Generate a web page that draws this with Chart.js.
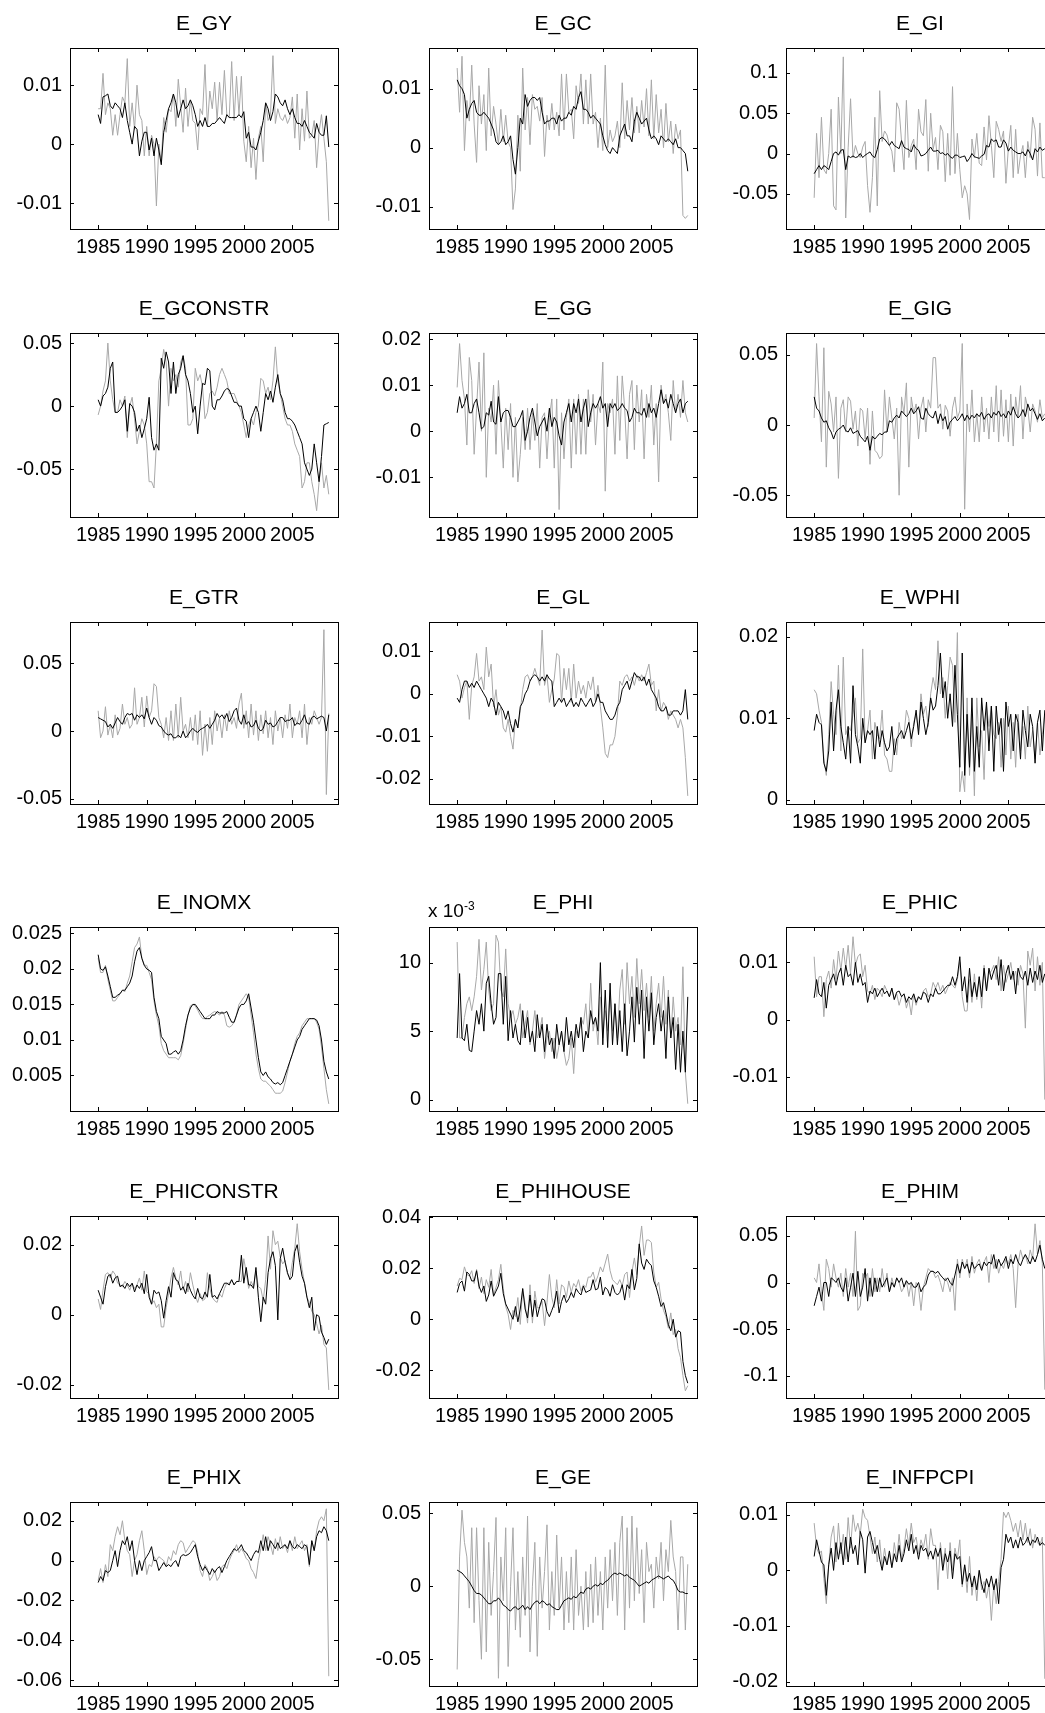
<!DOCTYPE html>
<html>
<head>
<meta charset="utf-8">
<script src="https://cdn.jsdelivr.net/npm/chart.js@4.4.1/dist/chart.umd.min.js"></script>
<style>
  html, body { margin: 0; padding: 0; background: #fff; }
  body { width: 1045px; height: 1713px; position: relative; overflow: hidden; font-family: "Liberation Sans", Arial, sans-serif; }
  canvas { position: absolute; }
  .ttl { position: absolute; text-align: center; font-size: 21px; line-height: 24px; color: #000; }
  .mult { position: absolute; font-size: 19px; line-height: 20px; color: #000; }
  .mult sup { font-size: 12px; }
</style>
</head>
<body>
<script>
// quarterly observations, 1985Q1 .. 2008Q4
const quarters = [];
for (let yr = 1985; yr <= 2008; yr++) {
  for (let q = 0; q < 4; q++) quarters.push(yr + q / 4);
}
const xTicks = [1985, 1990, 1995, 2000, 2005];

// black = smoothed shock, gray = second estimate
const E_GY_black = [0.005,0.0035,0.008,0.0082, 0.0085,0.0065,0.006,0.007, 0.0065,0.006,0.0045,0.007, 0.004,0.002,0.000,0.003,
  0.0025,-0.002,0.0005,0.002, 0.002,-0.001,0.001,-0.002, 0.001,-0.001,-0.0035,0.002, 0.004,0.006,0.007,0.0085,
  0.007,0.0045,0.006,0.0075, 0.006,0.0065,0.0075,0.0065, 0.005,0.003,0.004,0.003, 0.0045,0.003,0.003,0.0035,
  0.0035,0.004,0.0045,0.004, 0.0035,0.005,0.0045,0.0045, 0.0045,0.0045,0.005,0.0045, 0.0055,0.001,0.002,-0.0005,
  -0.0005,-0.001,0.0005,0.002, 0.004,0.007,0.006,0.004, 0.0055,0.0085,0.008,0.007, 0.0065,0.0075,0.006,0.005,
  0.006,0.0045,0.0035,0.0035, 0.003,0.004,0.003,0.002, 0.0015,0.001,0.0035,0.002, 0.0015,0.0015,0.0048,-0.0005];
const E_GY_gray = [0.006,0.006,0.012,0.005, 0.007,0.006,0.0015,0.005, 0.0015,0.005,0.008,0.007, 0.0145,0.003,0.007,0.0025,
  0.010,0.005,0.004,-0.002, 0.003,-0.002,0.0015,0.000, -0.0105,0.000,-0.003,0.0045, 0.002,0.006,0.0055,0.0085,
  0.003,0.011,0.0065,0.002, 0.0095,0.003,0.0075,0.004, 0.0035,-0.001,0.006,0.005, 0.0135,0.003,0.009,0.006,
  0.0105,0.004,0.0105,0.005, 0.0125,0.005,0.0045,0.014, 0.004,0.0115,0.005,0.0115, 0.0005,-0.003,0.003,-0.004,
  0.001,-0.006,0.001,0.003, -0.003,0.007,0.004,0.005, 0.015,0.0035,0.006,0.0045, 0.004,0.005,0.0035,0.0045,
  0.008,0.001,0.0085,-0.001, 0.006,0.0005,0.009,0.001, 0.0015,0.004,-0.004,0.002, 0.005,0.001,-0.003,-0.013];

const E_GC_black = [0.0115,0.0105,0.010,0.009, 0.005,0.0065,0.0075,0.008, 0.006,0.0055,0.0055,0.006, 0.0055,0.005,0.004,0.003,
  0.001,0.0005,0.001,0.002, 0.0005,0.001,0.002,-0.002, -0.0045,0.000,0.005,0.004, 0.009,0.007,0.008,0.0085,
  0.0085,0.008,0.0085,0.006, 0.004,0.0045,0.0045,0.005, 0.005,0.004,0.0055,0.0045, 0.005,0.005,0.006,0.0055,
  0.007,0.0065,0.0085,0.0095, 0.0065,0.0065,0.006,0.005, 0.0055,0.005,0.0045,0.004, 0.002,0.0005,-0.0005,-0.001,
  0.000,-0.0005,-0.001,0.002, 0.003,0.004,0.002,0.002, 0.001,0.0045,0.006,0.005, 0.004,0.0045,0.005,0.003,
  0.0015,0.002,0.0015,0.0005, 0.002,0.0015,0.001,0.0015, 0.001,0.0005,0.0015,0.000, 0.000,-0.0005,-0.001,-0.004];
const E_GC_gray = [0.0135,0.006,0.0155,-0.0005, 0.008,0.0045,0.014,0.004, -0.0025,0.0105,0.004,0.009, -0.0005,0.0135,0.002,0.007,
  0.004,0.0005,0.0065,0.001, 0.0055,0.001,0.000,-0.0105, -0.007,0.0055,-0.004,0.0135, 0.003,0.0085,0.0005,0.009,
  0.0065,0.007,0.0045,0.0085, -0.0015,0.0055,0.003,0.0075, 0.003,0.006,0.002,0.0125, 0.003,0.0125,0.006,0.0065,
  0.0015,0.0105,0.0075,0.0125, 0.004,0.0115,0.004,0.0125, 0.004,0.006,0.000,0.005, -0.0005,0.014,0.000,0.003,
  0.001,0.002,0.0045,0.000, 0.011,0.0015,0.008,0.003, 0.0085,0.0025,0.007,0.0025, 0.008,0.0035,0.010,0.002,
  0.0115,0.0015,0.009,0.0025, 0.0065,0.000,0.0075,0.001, 0.0045,-0.001,0.004,0.0015, 0.003,-0.0115,-0.012,-0.0115];

const E_GI_black = [-0.025,-0.02,-0.015,-0.02, -0.015,-0.017,-0.02,-0.01, 0.000,0.002,-0.002,0.004, 0.005,-0.02,-0.003,-0.005,
  -0.003,-0.005,-0.004,0.000, -0.005,-0.002,0.000,0.002, -0.003,-0.005,0.005,0.018, 0.02,0.018,0.014,0.010,
  0.015,0.010,0.008,0.006, 0.016,0.008,0.006,0.005, 0.002,0.011,0.006,0.004, -0.003,-0.002,0.000,0.004,
  0.008,0.003,0.003,0.004, 0.000,0.001,-0.002,0.000, -0.004,-0.006,-0.002,-0.002, -0.005,-0.004,-0.003,-0.01,
  -0.006,0.000,-0.004,-0.005, -0.006,-0.003,-0.001,0.010, 0.008,0.018,0.015,0.017, 0.008,0.008,0.017,0.013,
  0.003,0.008,0.004,0.002, 0.000,0.000,0.002,-0.003, 0.005,0.000,-0.008,0.006, 0.002,0.008,0.004,0.006];
const E_GI_gray = [-0.055,0.025,-0.03,0.045, -0.02,-0.025,0.000,0.055, -0.065,-0.07,0.07,0.000, 0.12,-0.08,0.007,0.068,
  -0.005,0.01,0.000,-0.005, 0.008,0.015,-0.04,-0.073, -0.03,0.045,-0.065,0.078, 0.015,0.028,0.023,0.01,
  0.003,-0.023,0.063,0.055, 0.015,-0.020,0.066,-0.005, 0.010,0.018,-0.020,0.055, 0.027,0.022,0.067,-0.022,
  0.050,0.005,0.020,-0.020, 0.035,0.027,-0.035,0.025, -0.027,0.083,-0.025,0.025, -0.020,-0.055,-0.040,-0.050,
  -0.082,0.018,-0.005,0.025, -0.012,-0.015,0.033,-0.008, 0.047,0.010,-0.030,0.040, 0.030,0.015,0.028,-0.037,
  0.007,0.035,-0.030,0.030, -0.025,-0.003,0.010,-0.030, 0.015,-0.005,0.045,0.030, -0.028,0.038,-0.030,-0.030];

const E_GCONSTR_black = [0.005,0.000,0.008,0.010, 0.015,0.030,0.035,-0.005, -0.005,-0.003,0.000,0.005, -0.020,0.002,0.000,-0.005,
  -0.020,-0.015,-0.025,-0.018, -0.010,0.007,-0.025,-0.035, -0.030,-0.035,0.038,0.030, 0.043,0.035,0.010,0.035,
  0.010,0.025,0.030,0.040, 0.025,0.020,0.010,-0.005, 0.000,-0.022,0.000,0.018, 0.017,0.030,0.028,0.000,
  -0.003,0.005,0.005,0.008, 0.012,0.014,0.013,0.008, 0.003,0.003,0.000,0.000, -0.010,-0.012,-0.025,-0.010,
  -0.005,0.000,-0.005,-0.020, -0.005,0.010,0.005,0.012, 0.003,0.015,0.025,0.010, 0.005,-0.005,-0.010,-0.010,
  -0.012,-0.015,-0.020,-0.025, -0.030,-0.045,-0.050,-0.055, -0.050,-0.030,-0.045,-0.060, -0.040,-0.015,-0.014,-0.013];
const E_GCONSTR_gray = [-0.007,0.000,0.012,0.020, 0.050,0.020,0.005,-0.005, -0.005,0.005,0.000,0.008, -0.025,0.000,0.007,-0.010,
  -0.030,-0.020,-0.010,-0.015, -0.030,-0.060,-0.060,-0.065, -0.030,0.020,0.030,0.045, 0.035,0.000,0.030,0.020,
  0.025,0.015,0.035,0.040, 0.030,-0.015,-0.015,-0.010, 0.030,0.020,0.025,0.015, -0.010,-0.005,0.010,0.012,
  0.008,0.015,0.025,0.030, 0.025,0.020,0.010,0.010, 0.010,0.005,0.000,-0.005, -0.015,-0.025,-0.015,-0.010,
  -0.015,-0.005,0.000,0.022, 0.020,0.010,0.015,0.005, 0.020,0.047,0.020,0.010, 0.000,-0.010,-0.015,-0.015,
  -0.020,-0.030,-0.035,-0.040, -0.065,-0.060,-0.045,-0.045, -0.060,-0.070,-0.083,-0.060, -0.045,-0.065,-0.055,-0.070];

const E_GG_black = [0.004,0.0075,0.005,0.006, 0.008,0.004,0.004,0.006, 0.007,0.004,0.0005,0.001, 0.004,0.0035,0.0065,0.002,
  0.0015,0.0075,0.002,0.004, 0.0045,0.0045,0.003,0.001, 0.001,0.002,0.003,0.0045, -0.002,0.000,0.003,0.005,
  0.002,-0.001,0.001,0.002, 0.003,0.000,0.005,0.001, 0.003,0.002,-0.001,-0.003, 0.002,0.004,0.006,0.002,
  0.006,0.004,0.007,0.002, 0.005,0.007,0.001,0.004, 0.006,0.005,0.006,0.0075, 0.005,0.006,0.001,0.006,
  0.005,0.006,0.0045,0.005, 0.006,0.005,0.0045,0.002, 0.003,0.005,0.004,0.004, 0.0035,0.005,0.003,0.006,
  0.004,0.005,0.003,0.006, 0.009,0.006,0.007,0.005, 0.008,0.006,0.004,0.006, 0.007,0.004,0.006,0.0065];
const E_GG_gray = [0.0095,0.019,0.011,0.007, -0.003,0.016,0.011,-0.005, 0.005,0.015,0.000,0.017, -0.010,0.005,0.002,0.010,
  -0.005,0.011,0.002,-0.008, 0.005,-0.004,0.006,-0.010, 0.003,-0.011,-0.005,0.003, -0.004,0.005,-0.004,0.004,
  -0.002,0.006,-0.008,0.003, 0.004,-0.006,0.003,0.007, -0.008,0.007,-0.017,0.004, -0.006,0.003,0.007,-0.008,
  0.007,-0.005,0.008,-0.005, 0.007,-0.005,0.009,0.002, 0.008,-0.003,0.006,0.004, 0.015,-0.013,0.006,0.004,
  0.007,-0.005,0.012,-0.002, 0.012,0.005,-0.006,0.008, 0.011,-0.004,0.010,0.002, 0.009,-0.006,0.008,0.003,
  0.010,-0.003,0.006,-0.011, 0.010,0.006,0.008,0.004, -0.002,0.011,0.004,0.008, 0.003,0.011,0.004,0.002];

const E_GIG_black = [0.020,0.012,0.010,0.005, 0.002,0.003,-0.002,-0.005, -0.010,-0.005,-0.003,-0.002, 0.000,-0.004,-0.005,-0.002,
  -0.006,-0.005,-0.004,-0.008, -0.010,-0.012,-0.008,-0.018, -0.008,-0.010,-0.008,-0.006, -0.007,-0.005,-0.005,0.003,
  0.002,0.005,0.007,0.005, 0.010,0.008,0.006,0.008, 0.012,0.008,0.010,0.013, 0.005,0.004,0.012,0.008,
  0.006,0.005,0.010,0.001, 0.008,0.003,0.006,-0.003, 0.002,0.004,0.006,0.003, 0.005,0.008,0.003,0.007,
  0.004,0.007,0.005,0.008, 0.006,0.009,0.004,0.007, 0.008,0.005,0.009,0.007, 0.010,0.006,0.008,0.005,
  0.010,0.007,0.013,0.008, 0.005,0.007,0.011,0.006, 0.015,0.010,0.012,0.008, 0.004,0.008,0.003,0.005];
const E_GIG_gray = [0.005,0.058,0.020,-0.012, 0.055,-0.030,0.024,0.015, -0.005,0.020,-0.038,0.012, 0.018,-0.005,0.020,0.017,
  -0.003,0.010,-0.015,0.012, 0.010,-0.010,0.012,-0.028, 0.010,-0.018,-0.020,-0.024, -0.022,0.025,-0.005,0.020,
  0.005,-0.010,0.012,-0.050, 0.020,0.008,0.030,-0.030, 0.020,0.008,0.015,-0.010, 0.012,0.020,-0.005,0.018,
  0.012,0.048,0.048,0.012, 0.015,-0.003,0.014,0.010, -0.008,0.012,0.020,0.005, 0.010,0.058,-0.060,0.015,
  -0.005,0.025,-0.012,0.008, -0.012,0.020,-0.005,0.012, -0.010,0.020,-0.005,0.028, -0.012,0.025,-0.008,0.018,
  -0.012,0.022,-0.015,0.020, 0.005,0.028,-0.010,0.020, 0.012,-0.005,0.015,0.010, 0.002,0.018,0.005,0.008];

const E_GTR_black = [0.010,0.009,0.008,0.007, 0.003,0.005,0.002,0.006, 0.010,0.007,0.005,0.010, 0.013,0.012,0.013,0.008,
  0.012,0.010,0.012,0.009, 0.017,0.010,0.005,0.010, 0.008,0.004,0.003,0.000, -0.002,-0.003,-0.002,-0.005,
  -0.005,-0.003,-0.005,0.000, -0.005,-0.003,0.000,0.002, 0.000,-0.001,0.001,0.002, 0.003,0.005,0.002,0.005,
  0.008,0.013,0.010,0.012, 0.009,0.013,0.007,0.010, 0.015,0.017,0.008,0.005, 0.012,0.005,0.007,0.003,
  0.004,0.008,0.002,0.000, 0.002,0.008,0.005,0.006, 0.003,0.004,0.007,0.010, 0.010,0.007,0.008,0.008,
  0.010,0.004,0.006,0.005, 0.008,0.012,0.006,0.005, 0.010,0.011,0.009,0.010, 0.011,0.010,0.000,0.012];
const E_GTR_gray = [0.015,-0.005,0.000,0.018, -0.003,0.005,-0.005,0.012, -0.003,0.002,0.020,0.005, 0.010,0.002,0.005,0.032,
  0.005,0.010,0.025,0.003, 0.026,0.010,0.015,0.035, 0.033,0.010,0.005,-0.005, 0.010,-0.007,0.015,-0.007,
  0.020,-0.005,0.025,0.000, 0.005,-0.005,0.010,-0.007, 0.012,-0.010,0.015,-0.018, 0.005,-0.015,0.010,-0.010,
  0.015,0.000,0.010,-0.005, 0.012,0.000,0.015,0.005, 0.010,0.002,0.020,0.028, 0.002,0.015,-0.005,0.020,
  -0.003,0.015,-0.007,0.012, -0.002,0.015,-0.005,0.010, -0.010,0.015,0.000,0.010, -0.005,0.012,0.002,0.020,
  -0.005,0.010,0.005,0.015, -0.005,0.020,-0.010,0.010, 0.005,0.015,0.010,0.005, 0.010,0.075,-0.047,0.013];

const E_GL_black = [-0.001,-0.002,0.001,0.003, 0.003,0.0015,0.0025,0.0015, 0.003,0.002,0.001,0.000, -0.001,-0.003,-0.001,-0.002,
  -0.005,-0.002,-0.003,-0.004, -0.006,-0.004,-0.007,-0.009, -0.006,-0.008,-0.003,-0.002, 0.000,0.001,0.003,0.004,
  0.0045,0.004,0.003,0.004, 0.003,0.0045,0.0035,0.003, -0.003,-0.002,-0.001,-0.002, -0.001,-0.003,-0.002,-0.001,
  -0.003,-0.002,-0.003,-0.001, -0.002,-0.003,-0.002,-0.001, -0.003,-0.002,0.000,-0.002, -0.002,-0.004,-0.005,-0.006,
  -0.006,-0.005,-0.003,-0.002, 0.001,0.002,0.003,0.001, 0.003,0.005,0.004,0.004, 0.003,0.004,0.002,0.0035,
  0.001,0.000,-0.001,-0.003, -0.004,-0.004,-0.003,-0.005, -0.005,-0.004,-0.004,-0.004, -0.005,-0.004,0.001,-0.006];
const E_GL_gray = [0.0045,0.003,-0.001,0.0015, 0.003,-0.006,0.002,0.004, 0.0095,0.003,0.004,0.001, 0.011,0.004,0.007,-0.003,
  0.001,-0.005,-0.003,-0.008, -0.009,-0.006,-0.010,-0.013, -0.006,-0.008,-0.004,0.001, 0.004,0.0045,0.003,0.004,
  0.006,0.004,0.002,0.015, 0.002,0.0045,-0.002,0.001, 0.0035,0.0095,0.009,-0.002, 0.006,0.001,0.006,-0.002,
  0.007,-0.001,0.003,0.000, 0.002,-0.001,0.003,0.001, 0.004,-0.002,0.002,-0.003, -0.008,-0.014,-0.015,-0.012,
  -0.012,-0.010,-0.005,0.003, 0.002,0.004,0.0045,0.003, 0.004,0.002,0.0045,0.003, 0.0045,0.003,0.005,0.007,
  0.002,0.003,-0.004,0.001, -0.004,-0.002,-0.003,-0.006, -0.004,-0.005,-0.006,-0.008, -0.006,-0.008,-0.015,-0.024];

const E_WPHI_black = [0.0085,0.0105,0.0095,0.0092, 0.0045,0.0035,0.006,0.012, 0.006,0.011,0.0135,0.009, 0.007,0.005,0.009,0.0045,
  0.014,0.008,0.0065,0.0045, 0.010,0.007,0.0085,0.008, 0.0085,0.005,0.009,0.0065, 0.0085,0.007,0.006,0.0065,
  0.009,0.0055,0.0075,0.008, 0.0085,0.0075,0.0085,0.0095, 0.0075,0.009,0.011,0.008, 0.012,0.010,0.008,0.0095,
  0.0125,0.011,0.0115,0.014, 0.018,0.0125,0.0145,0.010, 0.013,0.009,0.0165,0.0105, 0.004,0.018,0.003,0.0105,
  0.004,0.0125,0.0035,0.009, 0.004,0.0125,0.0085,0.012, 0.006,0.0115,0.0035,0.0115, 0.008,0.010,0.0035,0.012,
  0.009,0.0105,0.006,0.0105, 0.0095,0.005,0.011,0.0085, 0.0065,0.0105,0.009,0.0045, 0.0095,0.011,0.006,0.011];
const E_WPHI_gray = [0.0135,0.013,0.011,0.0095, 0.005,0.003,0.008,0.0145, 0.0105,0.008,0.0165,0.006, 0.0175,0.008,0.009,0.0085,
  0.0105,0.0125,0.007,0.0075, 0.0185,0.007,0.0085,0.011, 0.005,0.0095,0.008,0.0075, 0.011,0.0055,0.005,0.0035,
  0.0035,0.0075,0.0055,0.0095, 0.0075,0.008,0.011,0.010, 0.0065,0.0095,0.0105,0.0085, 0.013,0.0105,0.0115,0.009,
  0.013,0.015,0.0135,0.0195, 0.013,0.015,0.010,0.014, 0.0175,0.0165,0.0095,0.0205, 0.001,0.0035,0.001,0.0125,
  0.003,0.0105,0.0005,0.0125, 0.0065,0.0085,0.0025,0.0115, 0.009,0.0115,0.008,0.0075, 0.0095,0.004,0.010,0.0055,
  0.0115,0.005,0.0095,0.004, 0.0105,0.006,0.009,0.005, 0.0115,0.0065,0.0085,0.005, 0.0095,0.0055,0.008,0.0105];

const E_INOMX_black = [0.022,0.020,0.0198,0.0203, 0.019,0.0175,0.016,0.016, 0.0163,0.0165,0.017,0.017, 0.0175,0.018,0.019,0.021,
  0.0225,0.023,0.0215,0.0205, 0.020,0.0198,0.0195,0.016, 0.014,0.013,0.0105,0.010, 0.0095,0.008,0.008,0.0083,
  0.0085,0.008,0.0085,0.010, 0.012,0.0135,0.0145,0.015, 0.015,0.0145,0.014,0.0135, 0.013,0.013,0.013,0.0135,
  0.0135,0.014,0.0138,0.0138, 0.0138,0.014,0.0132,0.0125, 0.0125,0.0135,0.0145,0.015, 0.015,0.0155,0.0165,0.0145,
  0.0125,0.010,0.0075,0.0055, 0.005,0.0055,0.0048,0.0045, 0.004,0.0038,0.004,0.0037, 0.004,0.005,0.006,0.007,
  0.008,0.009,0.010,0.0105, 0.0115,0.012,0.0125,0.013, 0.013,0.013,0.0128,0.012, 0.010,0.007,0.0055,0.0045];
const E_INOMX_gray = [0.0215,0.0195,0.0195,0.0205, 0.0185,0.017,0.0155,0.0155, 0.016,0.0165,0.017,0.0168, 0.018,0.019,0.021,0.023,
  0.0235,0.0245,0.0215,0.0205, 0.0205,0.0195,0.0185,0.0155, 0.0135,0.012,0.0095,0.0085, 0.008,0.0075,0.0075,0.0075,
  0.0075,0.0072,0.0078,0.0095, 0.0115,0.0135,0.0148,0.015, 0.0148,0.0142,0.0135,0.013, 0.013,0.0133,0.0135,0.0138,
  0.014,0.0138,0.0135,0.014, 0.0135,0.012,0.0118,0.012, 0.0125,0.0135,0.015,0.0155, 0.016,0.0165,0.016,0.0135,
  0.011,0.008,0.006,0.0045, 0.0042,0.0042,0.0038,0.0035, 0.003,0.0025,0.0025,0.0025, 0.0028,0.004,0.0055,0.007,
  0.008,0.0095,0.0105,0.011, 0.012,0.0125,0.013,0.013, 0.013,0.013,0.0125,0.0115, 0.009,0.006,0.003,0.001];

// E_PHI in units of 10^-3
const E_PHI_black = [4.5,9.2,4.5,4.3, 5.5,3.6,3.5,5.0, 6.5,5.5,7.0,5.0, 8.5,9.0,7.0,5.5,
  6.0,9.2,9.2,5.5, 9.0,4.3,6.5,4.5, 5.5,4.3,4.0,6.5, 4.5,6.0,4.2,5.0,
  3.5,6.2,4.5,5.5, 3.5,5.5,4.0,4.5, 3.0,5.5,4.0,5.0, 3.5,6.0,4.0,5.0,
  3.8,5.5,4.5,6.0, 3.5,5.0,4.5,6.5, 5.5,6.0,5.0,10.0, 4.0,8.0,3.8,8.5,
  4.0,7.0,4.0,6.5, 3.5,7.0,3.2,5.0, 7.5,4.2,8.2,5.5, 8.0,3.0,7.5,5.0,
  7.8,4.0,6.0,7.0, 5.0,6.5,3.0,7.5, 4.5,6.0,2.2,5.5, 2.0,5.0,2.0,7.5];
const E_PHI_gray = [11.5,4.5,4.5,6.0, 7.0,7.5,6.5,7.5, 9.0,11.7,8.0,9.5, 11.5,8.0,6.5,7.0,
  12.0,11.5,8.0,7.5, 11.0,7.0,6.0,6.5, 5.5,6.0,7.0,4.5, 5.5,6.5,4.0,5.0,
  6.5,4.5,5.0,6.0, 3.0,4.5,5.0,3.5, 4.5,3.0,4.0,5.0, 3.5,2.5,3.0,4.5,
  1.9,5.0,4.5,6.0, 5.5,7.0,4.5,8.5, 5.0,6.0,4.0,7.5, 4.5,6.5,5.0,8.0,
  5.0,7.0,4.5,8.0, 9.5,5.5,10.0,7.0, 9.0,6.0,10.3,7.0, 9.5,6.5,8.5,6.0,
  9.0,5.0,7.0,8.5, 6.0,9.0,5.5,8.0, 4.5,7.5,5.0,6.0, 4.0,9.7,2.0,-0.3];

const E_PHIC_black = [0.0038,0.007,0.0045,0.004, 0.0065,0.002,0.006,0.007, 0.008,0.006,0.008,0.009, 0.006,0.0095,0.0075,0.008,
  0.006,0.010,0.0065,0.008, 0.006,0.0065,0.003,0.005, 0.0045,0.0055,0.004,0.0048, 0.0055,0.0045,0.005,0.004,
  0.0055,0.0035,0.0048,0.005, 0.004,0.0045,0.003,0.004, 0.0035,0.0045,0.003,0.004, 0.0035,0.0048,0.0045,0.003,
  0.0045,0.004,0.0055,0.0045, 0.0045,0.005,0.0055,0.006, 0.006,0.0075,0.006,0.0075, 0.011,0.005,0.0075,0.003,
  0.009,0.004,0.0065,0.004, 0.0075,0.004,0.009,0.005, 0.009,0.007,0.0085,0.0095, 0.006,0.0105,0.005,0.008,
  0.0095,0.007,0.0085,0.0045, 0.009,0.0075,0.007,0.0085, 0.006,0.009,0.0065,0.0085, 0.007,0.0095,0.0065,0.008];
const E_PHIC_gray = [0.011,0.004,0.0075,0.0075, 0.0005,0.007,0.0085,0.0055, 0.0105,0.007,0.012,0.0085, 0.0125,0.009,0.013,0.008,
  0.0145,0.0095,0.011,0.0115, 0.0075,0.0095,0.005,0.0045, 0.006,0.0035,0.0055,0.005, 0.004,0.006,0.005,0.004,
  0.0055,0.0035,0.0045,0.0025, 0.004,0.0045,0.002,0.0035, 0.0008,0.0045,0.0025,0.004, 0.0035,0.005,0.0055,0.004,
  0.0045,0.0065,0.0055,0.0065, 0.005,0.006,0.0045,0.0055, 0.0065,0.006,0.0055,0.007, 0.010,0.004,0.0015,0.0015,
  0.007,0.003,0.008,0.0035, 0.0075,0.002,0.0095,0.005, 0.008,0.0085,0.0095,0.007, 0.011,0.005,0.0095,0.0065,
  0.008,0.010,0.007,0.0085, 0.006,0.0095,0.008,-0.0015, 0.012,0.0095,0.0125,0.005, 0.011,0.006,0.010,-0.014];

const E_PHICONSTR_black = [0.007,0.005,0.003,0.008, 0.011,0.0115,0.009,0.0105, 0.011,0.008,0.0085,0.0075, 0.009,0.008,0.009,0.0065,
  0.0085,0.0075,0.009,0.006, 0.0115,0.005,0.003,0.007, 0.006,0.0065,0.004,-0.001, 0.004,0.008,0.005,0.012,
  0.010,0.0095,0.007,0.008, 0.006,0.009,0.007,0.0055, 0.0045,0.0075,0.005,0.0045, 0.0065,0.005,0.0115,0.005,
  0.0055,0.0045,0.006,0.0075, 0.009,0.009,0.0085,0.010, 0.0085,0.0095,0.0095,0.017, 0.009,0.0135,0.0085,0.0085,
  0.0075,0.0135,0.005,-0.002, 0.005,0.003,0.012,0.016, 0.018,0.014,-0.0015,0.016, 0.019,0.015,0.012,0.010,
  0.011,0.018,0.020,0.015, 0.011,0.009,0.005,0.002, 0.005,-0.0045,0.000,-0.0005, -0.005,-0.0065,-0.0085,-0.007];
const E_PHICONSTR_gray = [0.0045,0.0015,0.007,0.0115, 0.012,0.0105,0.0125,0.0115, 0.009,0.0085,0.008,0.0095, 0.0085,0.007,0.009,0.0075,
  0.0085,0.0105,0.007,0.0125, 0.0065,0.006,0.003,0.004, 0.002,0.003,-0.0035,-0.0035, 0.002,0.006,0.0105,0.0135,
  0.0105,0.0085,0.0125,0.007, 0.0095,0.0065,0.012,0.0085, 0.0055,0.0035,0.006,0.004, 0.0045,0.012,0.0075,0.005,
  0.004,0.0035,0.006,0.005, 0.0075,0.009,0.009,0.010, 0.0085,0.0095,0.0095,0.0095, 0.016,0.012,0.0075,0.0095,
  0.008,0.0125,0.008,0.0075, 0.004,0.010,0.0225,0.013, 0.024,0.020,0.021,0.0165, 0.0145,0.0155,0.0115,0.0105,
  0.015,0.019,0.026,0.018, 0.013,0.009,0.005,0.0035, 0.001,0.000,-0.0025,-0.0055, -0.003,-0.0085,-0.0095,-0.0215];

const E_PHIHOUSE_black = [0.0105,0.014,0.015,0.011, 0.0185,0.0175,0.015,0.015, 0.019,0.013,0.0105,0.013, 0.007,0.0095,0.015,0.009,
  0.011,0.013,0.018,0.010, 0.006,0.004,0.002,0.000, 0.005,-0.001,0.004,0.012, 0.004,0.0005,0.0095,0.001,
  0.0075,0.001,0.005,0.008, 0.0075,0.003,0.001,0.0035, 0.006,0.011,0.0025,0.007, 0.0095,0.0065,0.008,0.0105,
  0.0085,0.012,0.0105,0.0095, 0.013,0.0105,0.011,0.0115, 0.0155,0.0115,0.012,0.0165, 0.0095,0.0125,0.0115,0.009,
  0.0135,0.0105,0.0095,0.0105, 0.0135,0.0075,0.0135,0.012, 0.0195,0.0115,0.016,0.0295, 0.022,0.0195,0.0235,0.022,
  0.021,0.015,0.0125,0.009, 0.005,0.0065,0.0025,-0.002, -0.0045,0.000,-0.007,-0.0045, -0.005,-0.0165,-0.022,-0.025];
const E_PHIHOUSE_gray = [0.013,0.016,0.0155,0.0205, 0.0175,0.017,0.019,0.014, 0.0195,0.012,0.0165,0.010, 0.0155,0.0125,0.0195,0.0095,
  0.0125,0.0155,0.0215,0.012, 0.005,0.002,-0.004,0.0035, 0.001,0.0085,-0.002,0.012, 0.006,-0.0015,0.0135,-0.0015,
  0.011,0.0045,0.0045,0.007, -0.0025,0.0065,0.0175,0.0085, 0.0045,0.0155,0.006,0.0135, 0.0125,0.0085,0.015,0.0105,
  0.014,0.0125,0.0155,0.011, 0.0135,0.0125,0.0165,0.0165, 0.0185,0.0145,0.017,0.0205, 0.0185,0.022,0.0255,0.019,
  0.0155,0.0145,0.0135,0.0155, 0.013,0.0175,0.0185,0.0085, 0.0185,0.024,0.0175,0.0285, 0.0365,0.025,0.031,0.031,
  0.030,0.0185,0.0125,0.0145, 0.008,0.0035,0.001,-0.0035, 0.0025,-0.006,-0.004,-0.0115, -0.015,-0.022,-0.028,-0.026];

const E_PHIM_black = [-0.025,-0.015,-0.005,-0.020, 0.000,0.000,-0.015,0.005, 0.003,0.000,0.005,-0.005, -0.010,0.005,-0.020,-0.005,
  0.010,-0.015,0.012,-0.015, -0.005,0.015,-0.020,0.005, -0.015,0.005,-0.010,0.005, -0.005,0.000,0.005,-0.010,
  0.000,-0.005,0.005,0.000, 0.005,-0.005,0.002,-0.002, 0.000,-0.005,-0.005,0.000, -0.010,-0.005,-0.002,0.008,
  0.012,0.012,0.010,0.012, 0.008,0.005,0.002,0.005, 0.000,-0.003,0.008,0.020, 0.010,0.022,0.015,0.020,
  0.010,0.022,0.015,0.018, 0.020,0.013,0.022,0.018, 0.022,0.020,0.030,0.015, 0.025,0.018,0.022,0.028,
  0.015,0.025,0.020,0.030, 0.022,0.018,0.025,0.030, 0.025,0.020,0.028,0.022, 0.030,0.040,0.025,0.015];
const E_PHIM_gray = [0.005,0.000,0.020,-0.010, -0.030,0.025,0.015,-0.005, 0.020,0.005,-0.005,0.010, -0.015,0.015,-0.005,0.010,
  -0.015,0.055,-0.030,-0.025, 0.010,0.005,0.010,-0.015, 0.015,-0.010,0.005,-0.010, 0.015,-0.005,0.010,-0.010,
  0.005,-0.005,0.005,0.000, -0.010,-0.005,0.002,-0.015, 0.000,-0.025,0.000,-0.005, -0.030,-0.005,0.005,0.015,
  0.012,0.012,0.005,0.008, 0.000,-0.010,0.005,0.000, -0.010,0.005,-0.030,0.025, 0.005,0.025,0.015,0.025,
  0.005,0.028,0.010,0.020, 0.025,0.015,0.022,0.028, 0.000,0.030,0.015,0.025, 0.010,0.020,0.015,0.025,
  0.020,0.030,0.015,-0.027, 0.020,0.035,0.025,0.030, 0.020,0.035,0.025,0.063, 0.030,0.045,0.020,-0.115];

const E_PHIX_black = [-0.011,-0.008,-0.010,-0.005, -0.006,-0.005,0.000,0.005, -0.003,0.005,0.010,0.008, 0.012,0.005,0.010,0.000,
  -0.007,0.000,-0.005,0.000, 0.002,0.004,0.007,0.000, 0.000,-0.005,-0.003,-0.001, -0.003,-0.002,-0.003,-0.001,
  0.000,-0.003,0.002,0.003, 0.0025,0.003,0.004,0.006, 0.008,0.002,-0.002,-0.005, -0.003,-0.005,-0.007,-0.004,
  -0.006,-0.004,-0.003,-0.006, -0.003,0.000,0.002,0.004, 0.006,0.005,0.006,0.008, 0.005,0.004,0.002,0.000,
  0.003,0.005,0.004,0.010, 0.005,0.012,0.005,0.010, 0.008,0.006,0.009,0.006, 0.007,0.008,0.006,0.010,
  0.007,0.006,0.008,0.007, 0.006,0.008,0.007,-0.002, 0.010,0.005,0.012,0.015, 0.014,0.017,0.015,0.010];
const E_PHIX_gray = [-0.010,-0.004,-0.011,-0.002, -0.008,0.008,0.005,0.012, 0.017,0.013,0.020,0.010, 0.005,0.003,-0.008,0.000,
  0.003,0.010,0.015,0.005, -0.007,-0.002,-0.003,0.002, 0.000,0.002,0.001,0.000, -0.003,0.002,0.000,0.005,
  0.003,0.008,0.010,0.009, 0.004,0.006,0.008,0.010, 0.009,0.004,-0.005,-0.008, -0.002,-0.004,-0.010,-0.008,
  -0.005,-0.010,-0.008,-0.003, -0.002,-0.004,0.000,0.003, 0.005,0.008,0.004,0.006, 0.004,0.001,0.000,-0.004,
  -0.006,-0.009,0.000,0.006, 0.013,0.005,0.012,0.008, 0.003,0.011,0.005,0.012, 0.006,0.008,0.004,0.010,
  0.005,0.012,0.006,0.008, 0.010,0.005,0.008,-0.003, 0.010,0.005,0.015,0.020, 0.022,0.020,0.026,-0.058];

const E_GE_black = [0.011,0.010,0.009,0.007, 0.005,0.003,0.000,-0.003, -0.005,-0.005,-0.006,-0.008, -0.010,-0.012,-0.012,-0.010,
  -0.010,-0.008,-0.010,-0.013, -0.014,-0.016,-0.017,-0.015, -0.014,-0.016,-0.015,-0.013, -0.016,-0.014,-0.016,-0.013,
  -0.011,-0.010,-0.012,-0.010, -0.011,-0.013,-0.012,-0.014, -0.015,-0.016,-0.016,-0.013, -0.010,-0.009,-0.008,-0.009,
  -0.007,-0.008,-0.006,-0.004, -0.005,-0.002,-0.001,-0.002, 0.000,0.001,0.000,0.002, 0.001,0.003,0.004,0.006,
  0.008,0.009,0.008,0.009, 0.008,0.007,0.008,0.006, 0.005,0.004,0.002,0.000, 0.001,0.002,0.003,0.002,
  0.004,0.005,0.006,0.007, 0.006,0.005,0.006,0.007, 0.005,0.004,0.001,-0.003, -0.004,-0.004,-0.005,-0.005];
const E_GE_gray = [-0.057,0.020,0.052,0.030, 0.020,-0.015,0.040,-0.025, 0.040,-0.010,-0.050,0.040, -0.045,0.030,-0.020,0.010,
  0.047,-0.063,0.020,-0.010, 0.040,-0.055,0.000,0.040, -0.030,0.010,-0.035,0.020, -0.020,0.048,-0.045,0.000,
  0.030,-0.048,0.020,-0.015, 0.010,0.042,-0.030,0.010, -0.020,0.035,-0.015,0.020, -0.030,0.010,-0.025,0.020,
  -0.030,0.025,-0.020,0.000, -0.030,0.010,-0.028,0.015, -0.025,0.020,-0.020,0.010, -0.030,0.020,-0.015,0.025,
  -0.010,0.030,-0.020,0.030, 0.048,-0.030,0.040,-0.015, 0.048,-0.010,0.040,-0.005, 0.025,-0.025,0.030,0.010,
  0.015,-0.015,0.020,0.005, 0.030,-0.010,0.025,0.010, 0.045,0.020,0.010,-0.030, 0.020,0.020,-0.030,0.015];

const E_INFPCPI_black = [0.0025,0.0055,0.0035,0.0015, 0.001,-0.0045,0.001,0.004, 0.000,0.005,0.002,0.005, 0.001,0.006,0.0015,0.006,
  0.003,0.0045,0.001,0.007, 0.0055,-0.0005,0.006,0.007, 0.005,0.003,0.0045,0.002, 0.000,0.0025,0.001,0.0035,
  0.0005,0.003,0.0015,0.0045, 0.0015,0.003,0.0055,0.0035, 0.0065,0.003,0.0045,0.002, 0.0045,0.0035,0.004,0.0025,
  0.0035,0.002,0.004,0.0025, 0.004,0.000,0.003,0.0015, 0.0035,-0.0015,0.003,0.002, 0.0025,-0.0025,0.001,-0.002,
  -0.0005,-0.003,-0.001,-0.0035, 0.000,-0.0025,-0.004,-0.0015, -0.003,-0.001,-0.0035,-0.0015, -0.006,0.0005,0.002,0.0065,
  0.005,0.006,0.004,0.0055, 0.004,0.006,0.0045,0.005, 0.006,0.0045,0.0055,0.005, 0.006,0.0045,0.005,0.0045];
const E_INFPCPI_gray = [0.0085,0.004,0.003,0.0035, -0.0015,-0.006,0.001,0.006, 0.008,0.0015,0.0085,0.003, 0.0065,0.002,0.0095,0.004,
  0.010,0.007,0.0085,0.0065, 0.011,0.0095,0.009,0.006, 0.003,0.006,0.0015,0.0055, 0.0005,0.004,0.001,0.003,
  0.0005,0.005,0.002,0.0065, 0.002,0.004,0.0075,0.0045, 0.0085,0.005,0.006,0.003, 0.0055,0.004,0.0065,0.002,
  0.0075,0.0045,0.0045,-0.0035, 0.005,0.001,0.004,-0.0015, 0.005,0.000,0.004,0.002, 0.0055,-0.003,0.001,-0.004,
  0.0025,-0.0045,-0.001,-0.0055, 0.000,-0.0035,-0.002,-0.005, -0.0025,-0.009,-0.0025,-0.006, -0.002,0.002,0.0105,0.0095,
  0.0105,0.009,0.007,0.0085, 0.006,0.009,0.0055,0.0085, 0.005,0.0075,0.004,0.0065, 0.005,0.0045,0.006,-0.0195];

// panel order, left to right, top to bottom
const panelTitles = ['E_GY', 'E_GC', 'E_GI', 'E_GCONSTR', 'E_GG', 'E_GIG', 'E_GTR', 'E_GL', 'E_WPHI',
  'E_INOMX', 'E_PHI', 'E_PHIC', 'E_PHICONSTR', 'E_PHIHOUSE', 'E_PHIM', 'E_PHIX', 'E_GE', 'E_INFPCPI'];
const blackSeries = [E_GY_black, E_GC_black, E_GI_black, E_GCONSTR_black, E_GG_black, E_GIG_black, E_GTR_black, E_GL_black, E_WPHI_black,
  E_INOMX_black, E_PHI_black, E_PHIC_black, E_PHICONSTR_black, E_PHIHOUSE_black, E_PHIM_black, E_PHIX_black, E_GE_black, E_INFPCPI_black];
const graySeries = [E_GY_gray, E_GC_gray, E_GI_gray, E_GCONSTR_gray, E_GG_gray, E_GIG_gray, E_GTR_gray, E_GL_gray, E_WPHI_gray,
  E_INOMX_gray, E_PHI_gray, E_PHIC_gray, E_PHICONSTR_gray, E_PHIHOUSE_gray, E_PHIM_gray, E_PHIX_gray, E_GE_gray, E_INFPCPI_gray];
const yMin = [-0.0144, -0.0138, -0.0937, -0.088, -0.0186, -0.0655, -0.054, -0.0259, -0.0005,
  0.0, -0.83, -0.016, -0.0238, -0.0308, -0.124, -0.0629, -0.0683, -0.0208];
const yMax = [0.0163, 0.0169, 0.131, 0.058, 0.0213, 0.0655, 0.0807, 0.0169, 0.0218,
  0.0259, 12.6, 0.0162, 0.0282, 0.0404, 0.0714, 0.0294, 0.0576, 0.0123];
const yTicks = [
  [-0.01, 0, 0.01], [-0.01, 0, 0.01], [-0.05, 0, 0.05, 0.1],
  [-0.05, 0, 0.05], [-0.01, 0, 0.01, 0.02], [-0.05, 0, 0.05],
  [-0.05, 0, 0.05], [-0.02, -0.01, 0, 0.01], [0, 0.01, 0.02],
  [0.005, 0.01, 0.015, 0.02, 0.025], [0, 5, 10], [-0.01, 0, 0.01],
  [-0.02, 0, 0.02], [-0.02, 0, 0.02, 0.04], [-0.1, -0.05, 0, 0.05],
  [-0.06, -0.04, -0.02, 0, 0.02], [-0.05, 0, 0.05], [-0.02, -0.01, 0, 0.01]
];

// page layout (px)
const colLeft = [70, 429, 786];
const rowTop = [48, 333, 622, 927, 1216, 1502];
const rowBottom = [229, 517, 804, 1111, 1398, 1686];
const plotWidth = 268;
const axisW = 70, padTop = 26, padRight = 16, axisH = 40;

const frame = {
  id: 'frame',
  afterDraw(chart) {
    const { ctx, chartArea: a, scales: { x, y } } = chart;
    const t = 4;
    ctx.save();
    ctx.strokeStyle = '#000';
    ctx.lineWidth = 1;
    ctx.beginPath();
    x.ticks.forEach(tk => {
      const px = Math.round(x.getPixelForValue(tk.value)) + 0.5;
      ctx.moveTo(px, a.bottom); ctx.lineTo(px, a.bottom - t);
      ctx.moveTo(px, a.top); ctx.lineTo(px, a.top + t);
    });
    y.ticks.forEach(tk => {
      const py = Math.round(y.getPixelForValue(tk.value)) + 0.5;
      ctx.moveTo(a.left, py); ctx.lineTo(a.left + t, py);
      ctx.moveTo(a.right, py); ctx.lineTo(a.right - t, py);
    });
    ctx.stroke();
    ctx.strokeRect(Math.round(a.left) + 0.5, Math.round(a.top) + 0.5, Math.round(a.right - a.left), Math.round(a.bottom - a.top));
    ctx.restore();
  }
};

const tickFont = { family: '"Liberation Sans", Arial, sans-serif', size: 20 };

panelTitles.forEach((title, i) => {
  const r = Math.floor(i / 3), c = i % 3;
  const L = colLeft[c], T = rowTop[r], H = rowBottom[r] - rowTop[r];
  const cw = plotWidth + axisW + padRight, ch = H + padTop + axisH;

  const canvas = document.createElement('canvas');
  canvas.width = cw; canvas.height = ch;
  canvas.style.left = (L - axisW) + 'px';
  canvas.style.top = (T - padTop) + 'px';
  canvas.style.width = cw + 'px';
  canvas.style.height = ch + 'px';
  document.body.appendChild(canvas);

  const ttl = document.createElement('div');
  ttl.className = 'ttl';
  ttl.textContent = title;
  ttl.style.left = L + 'px';
  ttl.style.width = plotWidth + 'px';
  ttl.style.top = (T - 37) + 'px';
  document.body.appendChild(ttl);

  const toPts = arr => quarters.map((q, k) => ({ x: q, y: arr[k] }));

  new Chart(canvas, {
    type: 'line',
    data: {
      datasets: [
        { data: toPts(blackSeries[i]), borderColor: '#000', borderWidth: 1, pointRadius: 0, tension: 0 },
        { data: toPts(graySeries[i]), borderColor: '#a8a8a8', borderWidth: 1, pointRadius: 0, tension: 0 }
      ]
    },
    options: {
      responsive: false,
      animation: false,
      events: [],
      layout: { padding: { left: 0, top: padTop, right: padRight, bottom: 0 } },
      plugins: { legend: { display: false }, tooltip: { enabled: false } },
      scales: {
        x: {
          type: 'linear', min: 1982.1, max: 2009.7,
          grid: { display: false, drawTicks: false },
          border: { display: false },
          afterBuildTicks: s => { s.ticks = xTicks.map(v => ({ value: v })); },
          afterFit: s => { s.height = axisH; },
          ticks: { font: tickFont, color: '#000', padding: 6, maxRotation: 0, autoSkip: false, callback: v => String(v) }
        },
        y: {
          type: 'linear', min: yMin[i], max: yMax[i],
          grid: { display: false, drawTicks: false },
          border: { display: false },
          afterBuildTicks: s => { s.ticks = yTicks[i].map(v => ({ value: v })); },
          afterFit: s => { s.width = axisW; },
          ticks: { font: tickFont, color: '#000', padding: 8, autoSkip: false, callback: v => String(v) }
        }
      }
    },
    plugins: [frame]
  });
});

// exponent label for E_PHI
const mult = document.createElement('div');
mult.className = 'mult';
mult.innerHTML = 'x 10<sup>-3</sup>';
mult.style.left = '428px';
mult.style.top = '896px';
document.body.appendChild(mult);
</script>
</body>
</html>
